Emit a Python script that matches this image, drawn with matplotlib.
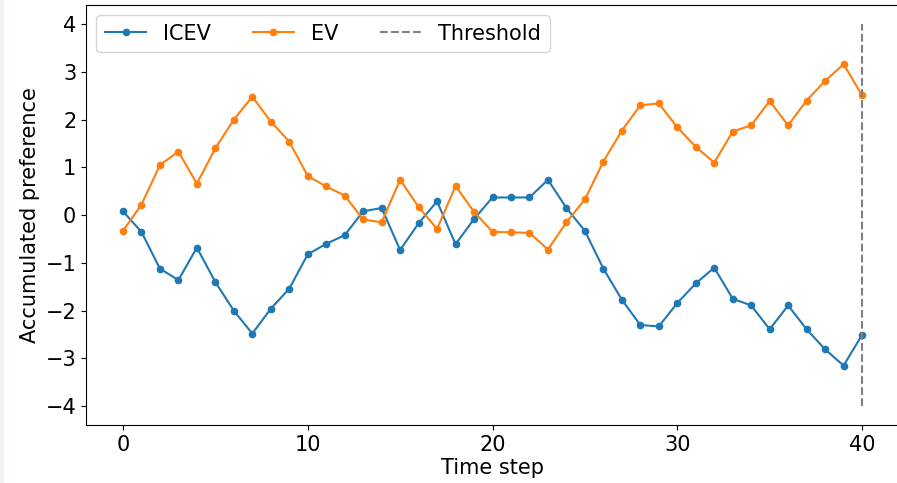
import matplotlib
matplotlib.use("Agg")
import matplotlib.pyplot as plt
from matplotlib.patches import Rectangle
from matplotlib.ticker import MultipleLocator
import numpy as np

steps = np.arange(41)
icev = [0.08, -0.35, -1.12, -1.36, -0.68, -1.40, -2.00, -2.48, -1.96, -1.54,
        -0.82, -0.60, -0.42, 0.08, 0.15, -0.73, -0.17, 0.29, -0.61, -0.08,
        0.37, 0.37, 0.37, 0.74, 0.15, -0.33, -1.12, -1.77, -2.30, -2.33,
        -1.84, -1.43, -1.10, -1.75, -1.89, -2.39, -1.89, -2.39, -2.81, -3.15,
        -2.51]
ev = [-0.33, 0.22, 1.05, 1.33, 0.66, 1.40, 2.00, 2.48, 1.96, 1.54,
      0.82, 0.60, 0.41, -0.09, -0.15, 0.74, 0.17, -0.29, 0.61, 0.07,
      -0.35, -0.36, -0.37, -0.72, -0.15, 0.33, 1.12, 1.77, 2.30, 2.34,
      1.84, 1.43, 1.10, 1.75, 1.88, 2.39, 1.88, 2.40, 2.81, 3.16,
      2.51]
threshold_step = 40
threshold_range = (-4, 4)

plt.rcParams["font.size"] = 15

fig = plt.figure(figsize=(8.97, 4.83), dpi=100)
ax = fig.add_axes([86 / 897, 57.7 / 483, 813 / 897, 420.3 / 483])

ax.plot(steps, icev, "o-", markersize=4.5, label="ICEV")
ax.plot(steps, ev, "o-", markersize=4.5, label="EV")
ax.vlines(threshold_step, *threshold_range, colors="gray", linestyles="--", label="Threshold")

ax.set_xlim(-2, 42)
ax.xaxis.set_major_locator(MultipleLocator(10))
ax.set_xlabel("Time step", labelpad=2)
ax.set_ylabel("Accumulated preference")
ax.legend(loc="upper left", ncol=3)
# the right edge of the frame falls off the canvas
ax.spines["right"].set_visible(False)

# thin grey strip along the left edge
fig.patches.append(Rectangle((0, 0), 3 / 897, 1, transform=fig.transFigure,
                             color="#f3f2ef", zorder=-1))

fig.savefig("out.png", dpi=100)
